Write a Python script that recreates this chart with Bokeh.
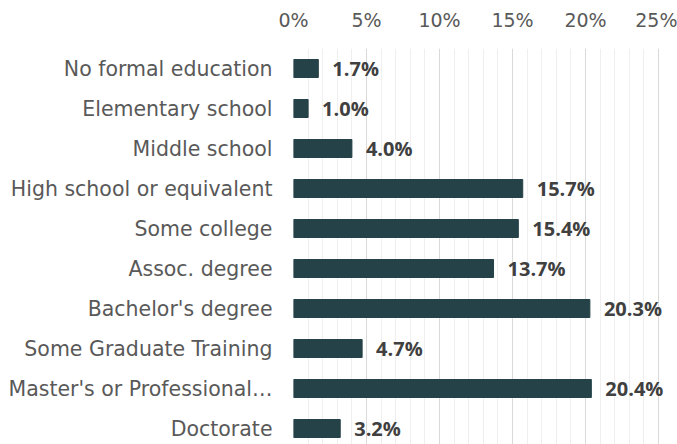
from bokeh.plotting import figure
from bokeh.models import Range1d, FixedTicker, ColumnDataSource
from bokeh.embed import file_html
from bokeh.resources import INLINE

categories = ["No formal education", "Elementary school", "Middle school",
              "High school or equivalent", "Some college", "Assoc. degree",
              "Bachelor's degree", "Some Graduate Training",
              "Master's or Professional\u2026", "Doctorate"]
values = [1.7, 1.0, 4.0, 15.7, 15.4, 13.7, 20.3, 4.7, 20.4, 3.2]
value_labels = ["1.7%", "1.0%", "4.0%", "15.7%", "15.4%", "13.7%", "20.3%", "4.7%", "20.4%", "3.2%"]
x_ticks = [0, 5, 10, 15, 20, 25]
x_tick_labels = ["0%", "5%", "10%", "15%", "20%", "25%"]
x_minor_ticks = list(range(0, 26))

pos = list(range(len(categories)))
src = ColumnDataSource(dict(y=pos, v=values, lab=value_labels))

x_end = 25 * 384 / 365  # leave room on the right for value labels

p = figure(width=677, height=444, output_backend="svg", toolbar_location=None,
           x_range=Range1d(0, x_end), y_range=Range1d(start=9.4, end=-0.5),
           x_axis_location="above", min_border_left=293, min_border_right=0,
           min_border_top=48, min_border_bottom=0)
p.outline_line_color = None
p.background_fill_color = "white"
p.border_fill_color = "white"

p.hbar(y="y", left=0, right="v", height=0.45, source=src,
       fill_color="#244247", line_color="#244247")
p.text(x="v", y="y", text="lab", source=src, x_offset=14,
       text_baseline="middle", text_align="left", text_font_size="20px",
       text_font_style="bold", text_color="#404040",
       text_font={"value": "Open Sans"})

xa = p.xaxis[0]
xa.ticker = FixedTicker(ticks=x_ticks, minor_ticks=x_minor_ticks)
xa.major_label_overrides = {t: l for t, l in zip(x_ticks, x_tick_labels)}
xa.axis_line_color = None
xa.major_tick_line_color = None
xa.minor_tick_line_color = None
xa.major_label_standoff = 12
xa.major_label_text_font = "DejaVu Sans"
xa.major_label_text_font_size = "19px"
xa.major_label_text_color = "#595959"

ya = p.yaxis[0]
ya.ticker = FixedTicker(ticks=pos)
ya.major_label_overrides = {i: c for i, c in zip(pos, categories)}
ya.axis_line_color = None
ya.major_tick_line_color = None
ya.minor_tick_line_color = None
ya.major_label_standoff = 15
ya.major_label_text_font = "DejaVu Sans"
ya.major_label_text_font_size = "20.5px"
ya.major_label_text_color = "#595959"

p.xgrid.grid_line_color = "#d9d9d9"
p.xgrid.minor_grid_line_color = "#efefef"
p.ygrid.grid_line_color = None

open("out.html", "w").write(file_html(p, INLINE))
